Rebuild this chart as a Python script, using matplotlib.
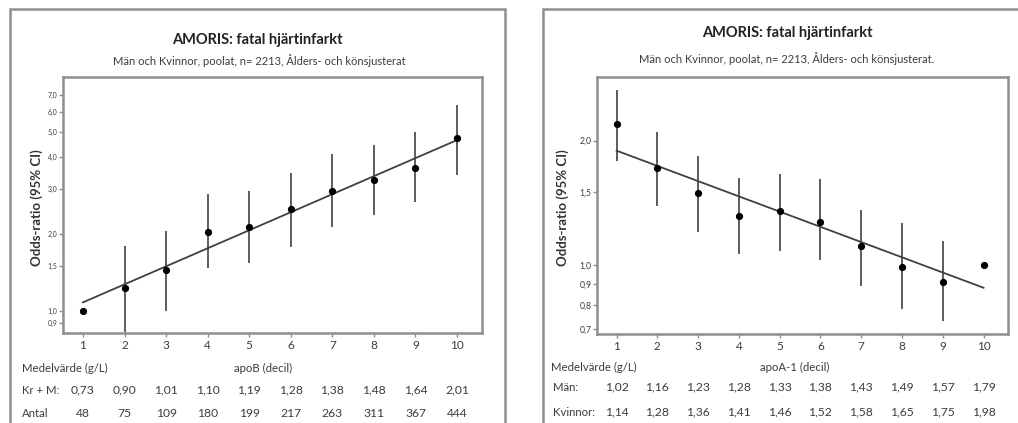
import numpy as np
import matplotlib
matplotlib.use('Agg')
from matplotlib import pyplot as plt
from matplotlib.patches import Rectangle
from matplotlib.ticker import FixedLocator, NullLocator
import matplotlib.transforms as mtransforms

plt.rcParams['font.family'] = ['Lato', 'DejaVu Sans']

W, H = 1018, 423

deciles = list(range(1, 11))

# left panel: apoB
apob_or = [1.00, 1.23, 1.45, 2.04, 2.13, 2.51, 2.95, 3.26, 3.63, 4.75]
apob_lo = [None, 0.83, 1.00, 1.47, 1.54, 1.78, 2.13, 2.37, 2.67, 3.40]
apob_hi = [None, 1.80, 2.05, 2.87, 2.95, 3.47, 4.11, 4.46, 5.00, 6.40]
apob_trend = [1.08, 4.65]
apob_mean = ['0,73', '0,90', '1,01', '1,10', '1,19', '1,28', '1,38', '1,48', '1,64', '2,01']
apob_n = ['48', '75', '109', '180', '199', '217', '263', '311', '367', '444']
apob_yticks = [0.9, 1.0, 1.5, 2.0, 3.0, 4.0, 5.0, 6.0, 7.0]

# right panel: apoA-1
apoa_or = [2.19, 1.72, 1.49, 1.31, 1.35, 1.27, 1.11, 0.99, 0.91, 1.00]
apoa_lo = [1.78, 1.39, 1.20, 1.06, 1.08, 1.03, 0.89, 0.78, 0.73, None]
apoa_hi = [2.65, 2.10, 1.83, 1.62, 1.66, 1.61, 1.36, 1.26, 1.14, None]
apoa_trend = [1.89, 0.88]
apoa_men = ['1,02', '1,16', '1,23', '1,28', '1,33', '1,38', '1,43', '1,49', '1,57', '1,79']
apoa_women = ['1,14', '1,28', '1,36', '1,41', '1,46', '1,52', '1,58', '1,65', '1,75', '1,98']
apoa_yticks = [0.7, 0.8, 0.9, 1.0, 1.5, 2.0]

title = 'AMORIS: fatal hjärtinfarkt'
sub_left = 'Män och Kvinnor, poolat, n= 2213, Ålders- och könsjusterat'
sub_right = 'Män och Kvinnor, poolat, n= 2213, Ålders- och könsjusterat.'

GRAY = '#8e8e8e'
TXT = '#3c3c3c'
FS = 8.2


def fx(px):
    return px / W


def fy(py):
    return 1 - py / H


fig = plt.figure(figsize=(W / 100, H / 100), dpi=100)
fig.patch.set_facecolor('white')

# outer frames (run off the bottom / right of the picture)
fig.patches.append(Rectangle((fx(10), fy(480)), fx(505) - fx(10), fy(9) - fy(480),
                             transform=fig.transFigure, fill=False, ec=GRAY, lw=1.8))
fig.patches.append(Rectangle((fx(543), fy(480)), fx(1100) - fx(543), fy(9) - fy(480),
                             transform=fig.transFigure, fill=False, ec=GRAY, lw=1.8))


def panel(box, y, lo, hi, trend, yticks, ylim, ytick_size):
    l, t, r, b = box
    ax = fig.add_axes([fx(l), fy(b), fx(r) - fx(l), fy(t) - fy(b)])
    ax.set_yscale('log')
    ax.set_xlim(0.52, 10.6)
    ax.set_ylim(*ylim)
    for s in ax.spines.values():
        s.set_color(GRAY)
        s.set_linewidth(1.8)
    for x, lv, hv in zip(deciles, lo, hi):
        if lv is not None:
            ax.plot([x, x], [lv, hv], color='#303030', lw=1.1, solid_capstyle='butt')
    ax.plot([deciles[0], deciles[-1]], trend, color='#404040', lw=1.3)
    ax.plot(deciles, y, 'o', color='black', ms=4.2)
    ax.yaxis.set_major_locator(FixedLocator(yticks))
    ax.yaxis.set_minor_locator(NullLocator())
    ax.set_yticklabels([f'{v:.1f}'.replace('.', ',') for v in yticks])
    ax.set_xticks(deciles)
    ax.tick_params(axis='y', labelsize=ytick_size, colors=GRAY, labelcolor=TXT,
                   length=3, width=1, pad=1)
    ax.tick_params(axis='x', labelsize=8.5, colors=GRAY, labelcolor=TXT,
                   length=3, width=1, pad=2)
    return ax


axl = panel((63, 77, 482, 333), apob_or, apob_lo, apob_hi, apob_trend,
            apob_yticks, (0.82, 8.2), 5)
axr = panel((597, 77, 1008, 334), apoa_or, apoa_lo, apoa_hi, apoa_trend,
            apoa_yticks, (0.68, 2.85), 6.2)

# titles
fig.text(fx(257), fy(40), title, ha='center', va='center', fontsize=10.5,
         fontweight='bold', color='#222222')
fig.text(fx(259), fy(61), sub_left, ha='center', va='center', fontsize=8, color=TXT)
fig.text(fx(787), fy(33), title, ha='center', va='center', fontsize=10.5,
         fontweight='bold', color='#222222')
fig.text(fx(787), fy(59), sub_right, ha='center', va='center', fontsize=8, color=TXT)

# y labels
fig.text(fx(37), fy(208), 'Odds-ratio (95% CI)', rotation=90, ha='center', va='center',
         fontsize=9.5, fontweight='bold', color='#333333')
fig.text(fx(563), fy(208), 'Odds-ratio (95% CI)', rotation=90, ha='center', va='center',
         fontsize=9.5, fontweight='bold', color='#333333')

# table under the left panel
tl = mtransforms.blended_transform_factory(axl.transData, fig.transFigure)
fig.text(fx(22), fy(368), 'Medelvärde (g/L)', ha='left', va='center', fontsize=FS, color=TXT)
fig.text(fx(263), fy(368), 'apoB (decil)', ha='center', va='center', fontsize=FS, color=TXT)
fig.text(fx(22), fy(390), 'Kr + M:', ha='left', va='center', fontsize=FS, color=TXT)
fig.text(fx(22), fy(413), 'Antal', ha='left', va='center', fontsize=FS, color=TXT)
for x, m, n in zip(deciles, apob_mean, apob_n):
    fig.text(x, fy(390), m, transform=tl, ha='center', va='center', fontsize=FS + 0.5, color=TXT)
    fig.text(x, fy(413), n, transform=tl, ha='center', va='center', fontsize=FS + 0.5, color=TXT)

# table under the right panel
tr = mtransforms.blended_transform_factory(axr.transData, fig.transFigure)
fig.text(fx(551), fy(367), 'Medelvärde (g/L)', ha='left', va='center', fontsize=FS, color=TXT)
fig.text(fx(795), fy(367), 'apoA-1 (decil)', ha='center', va='center', fontsize=FS, color=TXT)
fig.text(fx(553), fy(387), 'Män:', ha='left', va='center', fontsize=FS, color=TXT)
fig.text(fx(553), fy(412), 'Kvinnor:', ha='left', va='center', fontsize=FS, color=TXT)
for x, m, k in zip(deciles, apoa_men, apoa_women):
    fig.text(x, fy(387), m, transform=tr, ha='center', va='center', fontsize=FS + 0.5, color=TXT)
    fig.text(x, fy(412), k, transform=tr, ha='center', va='center', fontsize=FS + 0.5, color=TXT)

fig.savefig('out.png', dpi=100)
